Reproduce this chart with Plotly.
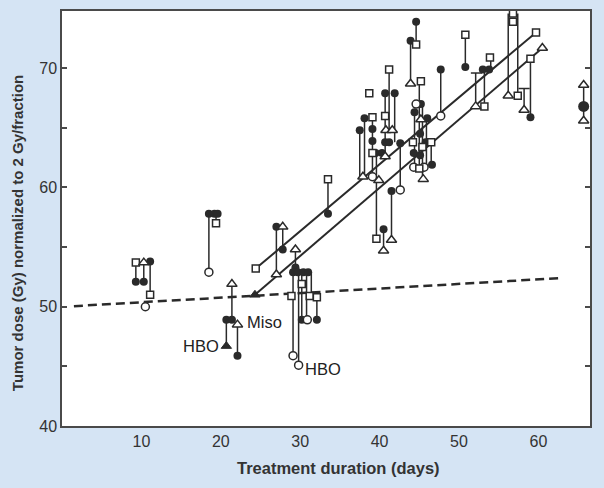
import plotly.graph_objects as go

# vertical connector segments: x, lower y, upper y
seg_x  = [9.3, 10.3, 11.1, 18.5, 19.4, 20.7, 21.4, 22.1, 27.0, 27.8, 29.4, 29.1, 29.8, 30.2, 30.8, 31.4, 32.1,
          33.5, 37.5, 38.1, 39.1, 39.6, 40.5, 40.7, 41.2, 41.5, 41.9, 42.6, 43.9, 44.6, 44.4, 45.0, 45.4, 45.9,
          46.5, 47.7, 50.8, 52.1, 53.2, 54.0, 56.2, 57.4, 58.2, 59.0, 65.7]
seg_lo = [52.1, 52.1, 51.0, 52.9, 57.0, 46.7, 48.9, 45.9, 52.7, 54.8, 53.3, 45.9, 45.1, 48.9, 48.9, 50.8, 48.9,
          57.8, 60.9, 60.9, 60.9, 55.7, 54.7, 62.6, 64.8, 55.6, 63.8, 59.8, 68.7, 72.0, 61.7, 61.6, 60.7, 61.7,
          61.9, 66.0, 70.1, 66.8, 66.8, 69.9, 67.7, 67.7, 66.5, 65.9, 65.6]
seg_hi = [53.7, 53.7, 53.8, 57.8, 57.8, 48.9, 51.9, 48.5, 56.7, 56.7, 54.8, 52.9, 52.9, 52.9, 52.9, 52.9, 50.8,
          60.7, 64.8, 65.8, 65.9, 62.9, 56.5, 67.9, 69.9, 59.7, 67.9, 63.7, 72.3, 73.9, 66.3, 68.9, 67.0, 65.8,
          63.8, 69.9, 72.8, 69.6, 69.9, 70.9, 74.6, 74.6, 68.3, 70.8, 68.6]

fc_x = [9.3, 10.3, 11.1, 18.5, 19.2, 19.6, 20.7, 21.4, 22.1, 27.0, 27.8, 29.4, 29.1, 29.7, 30.4, 31.0, 30.2, 32.1,
        33.5, 37.5, 38.1, 39.1, 39.1, 39.5, 40.3, 40.7, 41.9, 40.7, 41.2, 40.5, 41.5, 42.6, 43.9, 44.6, 44.4,
        45.2, 44.3, 45.1, 45.1, 45.8, 46.0, 46.6, 47.7, 50.8, 53.0, 53.8, 59.0]
fc_y = [52.1, 52.1, 53.8, 57.8, 57.8, 57.8, 48.9, 48.9, 45.9, 56.7, 54.8, 53.3, 52.9, 52.9, 52.9, 52.9, 48.9, 48.9,
        57.8, 64.8, 65.8, 64.9, 63.9, 62.9, 62.9, 67.9, 67.9, 63.8, 63.8, 56.5, 59.7, 63.7, 72.3, 73.9, 66.3,
        67.0, 62.9, 64.5, 62.7, 63.8, 65.8, 61.9, 69.9, 70.1, 69.9, 69.9, 65.9]
big_x = [65.7]
big_y = [66.8]

oc_x = [10.5, 18.5, 29.1, 29.8, 30.9, 39.1, 42.6, 44.6, 44.3, 45.6, 47.7]
oc_y = [50.0, 52.9, 45.9, 45.1, 48.9, 60.9, 59.8, 67.0, 61.7, 61.7, 66.0]

os_x = [9.3, 11.1, 19.4, 24.4, 28.9, 30.2, 31.2, 32.1, 33.5, 38.7, 39.1, 39.1, 39.6, 40.7, 41.2, 44.2, 44.6, 45.2,
        45.0, 45.4, 46.5, 50.8, 53.2, 53.9, 56.8, 56.8, 57.4, 59.0, 59.7]
os_y = [53.7, 51.0, 57.0, 53.2, 50.9, 51.9, 50.9, 50.8, 60.7, 67.9, 65.9, 62.9, 55.7, 66.0, 69.9, 63.8, 72.0, 68.9,
        61.6, 63.4, 63.8, 72.8, 66.8, 70.9, 74.6, 73.9, 67.7, 70.8, 73.0]

ot_x = [10.3, 21.4, 22.1, 27.0, 27.8, 29.4, 37.9, 39.9, 40.5, 40.8, 41.6, 40.7, 41.5, 43.9, 45.2, 45.5, 52.1,
        56.2, 58.2, 60.5, 65.7, 65.7]
ot_y = [53.7, 51.9, 48.5, 52.7, 56.7, 54.8, 60.9, 60.6, 54.7, 64.8, 64.8, 62.6, 55.6, 68.7, 65.7, 60.7, 66.8,
        67.7, 66.5, 71.7, 68.6, 65.6]

ft_x = [20.7, 24.3]
ft_y = [46.7, 51.0]

cap_x = [52.2, 58.2]
cap_y = [69.6, 68.3]

upper_fit_x = [24.4, 59.7]
upper_fit_y = [53.2, 73.0]
lower_fit_x = [24.3, 60.5]
lower_fit_y = [51.0, 71.7]
dash_x = [1.5, 62.7]
dash_y = [50.05, 52.4]

ann_text = ["HBO", "Miso", "HBO"]
ann_x = [20.0, 23.0, 30.4]
ann_y = [46.7, 48.7, 44.8]
ann_anchor = ["right", "left", "left"]

x_title = "Treatment duration (days)"
y_title = "Tumor dose (Gy) normalized to 2 Gy/fraction"

INK = "#2a2a2a"
FONT = "Liberation Sans, Arial, sans-serif"
fig = go.Figure()

sx, sy = [], []
for x, lo, hi in zip(seg_x, seg_lo, seg_hi):
    sx += [x, x, None]
    sy += [lo, hi, None]
fig.add_trace(go.Scatter(x=sx, y=sy, mode="lines", line=dict(color=INK, width=1.5), hoverinfo="skip"))

fig.add_trace(go.Scatter(x=dash_x, y=dash_y, mode="lines", line=dict(color=INK, width=2.5, dash="9px,5px")))
fig.add_trace(go.Scatter(x=upper_fit_x, y=upper_fit_y, mode="lines", line=dict(color=INK, width=2)))
fig.add_trace(go.Scatter(x=lower_fit_x, y=lower_fit_y, mode="lines", line=dict(color=INK, width=2)))

fig.add_trace(go.Scatter(x=cap_x, y=cap_y, mode="markers",
                         marker=dict(symbol="line-ew", size=8, line=dict(color=INK, width=1.5))))
fig.add_trace(go.Scatter(x=fc_x, y=fc_y, mode="markers",
                         marker=dict(symbol="circle", size=8, color=INK, line=dict(color=INK, width=0))))
fig.add_trace(go.Scatter(x=big_x, y=big_y, mode="markers",
                         marker=dict(symbol="circle", size=11, color=INK, line=dict(color=INK, width=0))))
fig.add_trace(go.Scatter(x=oc_x, y=oc_y, mode="markers",
                         marker=dict(symbol="circle", size=8, color="white", line=dict(color=INK, width=1.5))))
fig.add_trace(go.Scatter(x=os_x, y=os_y, mode="markers",
                         marker=dict(symbol="square", size=7, color="white", line=dict(color=INK, width=1.5))))
fig.add_trace(go.Scatter(x=ot_x, y=ot_y, mode="markers",
                         marker=dict(symbol="triangle-up", size=9, color="white", line=dict(color=INK, width=1.5))))
fig.add_trace(go.Scatter(x=ft_x, y=ft_y, mode="markers",
                         marker=dict(symbol="triangle-up", size=9, color=INK, line=dict(color=INK, width=1))))

for t, x, y, a in zip(ann_text, ann_x, ann_y, ann_anchor):
    fig.add_annotation(x=x, y=y, text=t, showarrow=False, xanchor=a, yanchor="middle",
                       font=dict(family=FONT, size=16.5, color="#222"))

# axis titles placed as annotations to match the original's off-centre placement
fig.add_annotation(xref="paper", yref="paper", x=0.523, y=-0.101, text="<b>" + x_title + "</b>",
                   showarrow=False, xanchor="center", yanchor="middle",
                   font=dict(family=FONT, size=16.5, color="#333"))
fig.add_annotation(xref="paper", yref="paper", x=-0.085, y=0.465, text="<b>" + y_title + "</b>",
                   showarrow=False, xanchor="center", yanchor="middle", textangle=-90,
                   font=dict(family=FONT, size=15, color="#333"))

ytick_vals = [40, 45, 50, 55, 60, 65, 70]
ytick_text = ["40", "", "50", "", "60", "", "70"]

fig.update_layout(
    width=604, height=488,
    margin=dict(l=62, r=14, t=9, b=62),
    paper_bgcolor="#d5e4f4", plot_bgcolor="white",
    showlegend=False,
    font=dict(family=FONT, color="#333"),
)
fig.update_xaxes(range=[0, 66.5], tickvals=[10, 20, 30, 40, 50, 60], ticks="", showgrid=False, zeroline=False,
                 showline=True, linecolor="#4a4a4a", linewidth=1.5, mirror=True,
                 tickfont=dict(size=16, color="#333"))
fig.update_yaxes(range=[40, 74.8], tickvals=ytick_vals, ticktext=ytick_text, ticks="inside", ticklen=5,
                 tickcolor="#4a4a4a", tickwidth=1.5, showgrid=False, zeroline=False,
                 showline=True, linecolor="#4a4a4a", linewidth=1.5, mirror="ticks",
                 tickfont=dict(size=16, color="#333"))

fig.write_html("out.html", config={"displayModeBar": False},
               post_script="document.body.style.margin='0';document.body.style.background='#d5e4f4';")
